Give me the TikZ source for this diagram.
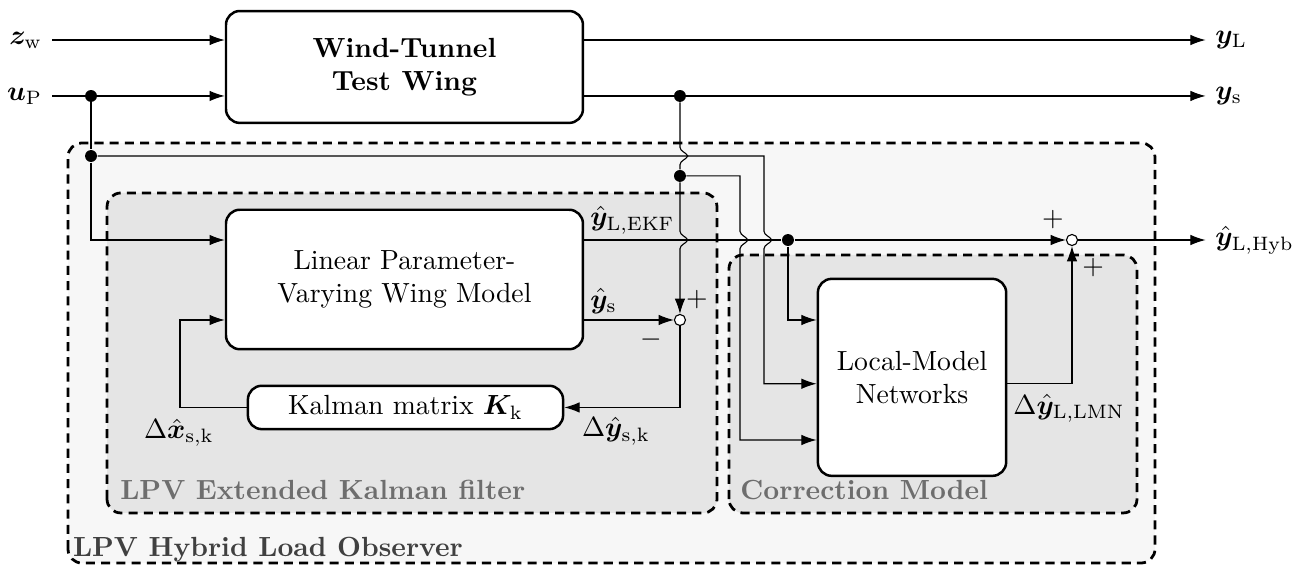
\documentclass[tikz,border=0pt]{standalone}
\usepackage{amsmath,bm}
\usetikzlibrary{arrows.meta,calc,positioning}

\definecolor{obsgray}{gray}{0.97}
\definecolor{ekfgray}{gray}{0.9}
\definecolor{lbldark}{gray}{0.25}
\definecolor{lbllight}{gray}{0.43}

\tikzset{
  block/.style={draw, line width=0.9pt, rounded corners=5pt, fill=white, align=center},
  grpbox/.style={draw, line width=1pt, dash pattern=on 3.3pt off 2.2pt, rounded corners=5pt},
  grplabel/.style={font=\bfseries, anchor=base west, inner sep=0pt},
  sig/.style={-{Latex[length=5.5pt,width=3.8pt]}},
  junction/.style={circle, fill, inner sep=0pt, minimum size=4.3pt},
  sumnode/.style={circle, draw, fill=white, inner sep=0pt, minimum size=4pt},
  jump/.style={insert path={-- ($(#1)+(0,0.11)$) to[out=-80,in=120] ($(#1)+(0.1,0)$) to[out=-120,in=80] ($(#1)+(0,-0.11)$)}},
}

\begin{document}
\begin{tikzpicture}
\useasboundingbox (0,0) rectangle (16.574,7.170);
% observer and its two parts
\draw[grpbox, fill=obsgray] (0.863,0.025) rectangle (14.657,5.355);
\draw[grpbox, fill=ekfgray] (1.358,0.66) rectangle (9.099,4.721);
\draw[grpbox, fill=ekfgray] (9.251,0.66) rectangle (14.429,3.934);
\node[grplabel, text=lbldark] (obslbl) at (0.92,0.11) {LPV Hybrid Load Observer};
\node[grplabel, text=lbllight] (ekflbl) at (1.52,0.83) {LPV Extended Kalman filter};
\node[grplabel, text=lbllight] (corrlbl) at (9.39,0.83) {Correction Model};

% blocks
\node[block, font=\bfseries, minimum width=4.53cm, minimum height=1.42cm] (wing) at (5.133,6.320) {Wind-Tunnel\\Test Wing};
\node[block, minimum width=4.53cm, minimum height=1.77cm] (lpv) at (5.133,3.623) {Linear Parameter-\\Varying Wing Model};
\node[block, minimum width=4.0cm, minimum height=0.55cm] (kal) at (5.146,1.999) {Kalman matrix $\bm{K}_\mathrm{k}$};
\node[block, minimum width=2.39cm, minimum height=2.50cm] (lmn) at (11.574,2.381) {Local-Model\\Networks};

% signals in and out
\node[anchor=east] (zw) at (0.66,6.662) {$\bm{z}_\mathrm{w}$};
\node[anchor=east] (up) at (0.66,5.952) {$\bm{u}_\mathrm{P}$};
\node[anchor=west] (yL) at (15.30,6.662) {$\bm{y}_\mathrm{L}$};
\node[anchor=west] (ys) at (15.30,5.952) {$\bm{y}_\mathrm{s}$};
\node[anchor=west] (yhyb) at (15.30,4.124) {$\hat{\bm{y}}_\mathrm{L,Hyb}$};

% junctions and sums
\node[junction] (upd) at (1.155,5.952) {};
\node[junction] (upd2) at (1.155,5.190) {};
\node[junction] (ysd) at (8.629,5.952) {};
\node[junction] (ysd2) at (8.629,4.937) {};
\node[junction] (ekfd) at (10.0,4.124) {};
\node[sumnode] (sumA) at (8.629,3.109) {};
\node[sumnode] (sumB) at (13.604,4.124) {};
\coordinate (ucorner) at (9.695,5.190);
\coordinate (scorner) at (9.391,4.937);
\coordinate (fb) at (2.284,3.109);
\coordinate (s2) at (0,2.300);
\coordinate (s3) at (0,1.586);

% plant
\draw[sig] (zw) -- (zw -| wing.west);
\draw[sig] (up) -- (up -| wing.west);
\draw[sig] (wing.east |- yL) -- (yL);
\draw[sig] (wing.east |- ys) -- (ys);

% kalman filter
\draw (upd) -- (upd2);
\draw[sig] (upd2) -- (upd2 |- ekfd) -- (lpv.west |- ekfd);
\draw (ysd) [jump={ysd |- upd2}] -- (ysd2);
\draw[sig] (ysd2) [jump={ysd |- ekfd}] -- (sumA);
\draw[sig] (lpv.east |- sumA) -- (sumA);
\draw[sig] (sumA) -- (sumA |- kal) -- (kal);
\draw[sig] (kal) -- (kal -| fb) -- (fb) -- (lpv.west |- fb);

% correction model
\draw (lpv.east |- ekfd) -- (ekfd);
\draw[sig] (ekfd) -- (sumB);
\draw[sig] (ekfd) -- (ekfd |- sumA) -- (lmn.west |- sumA);
\draw[sig] (upd2) -- (ucorner) [jump={ucorner |- ekfd}] -- (ucorner |- s2) -- (lmn.west |- s2);
\draw[sig] (ysd2) -- (scorner) [jump={scorner |- ekfd}] -- (scorner |- s3) -- (lmn.west |- s3);
\draw[sig] (lmn.east |- s2) -- (sumB |- s2) -- (sumB);
\draw[sig] (sumB) -- (yhyb);

% labels
\node[anchor=south west, inner sep=1pt] (lekf) at (7.449,4.16) {$\hat{\bm{y}}_\mathrm{L,EKF}$};
\node[anchor=south west, inner sep=1pt] (lys) at (7.449,3.15) {$\hat{\bm{y}}_\mathrm{s}$};
\node[inner sep=0pt] (ldx) at (2.27,1.675) {$\Delta\hat{\bm{x}}_\mathrm{s,k}$};
\node[inner sep=0pt] (ldy) at (7.817,1.70) {$\Delta\hat{\bm{y}}_\mathrm{s,k}$};
\node[inner sep=0pt] (ldl) at (13.566,1.99) {$\Delta\hat{\bm{y}}_\mathrm{L,LMN}$};
\node[inner sep=1pt] (pA) at (8.845,3.363) {$+$};
\node[inner sep=1pt] (mA) at (8.261,2.855) {$-$};
\node[inner sep=1pt] (pB1) at (13.363,4.378) {$+$};
\node[inner sep=1pt] (pB2) at (13.871,3.769) {$+$};
\end{tikzpicture}
\end{document}
